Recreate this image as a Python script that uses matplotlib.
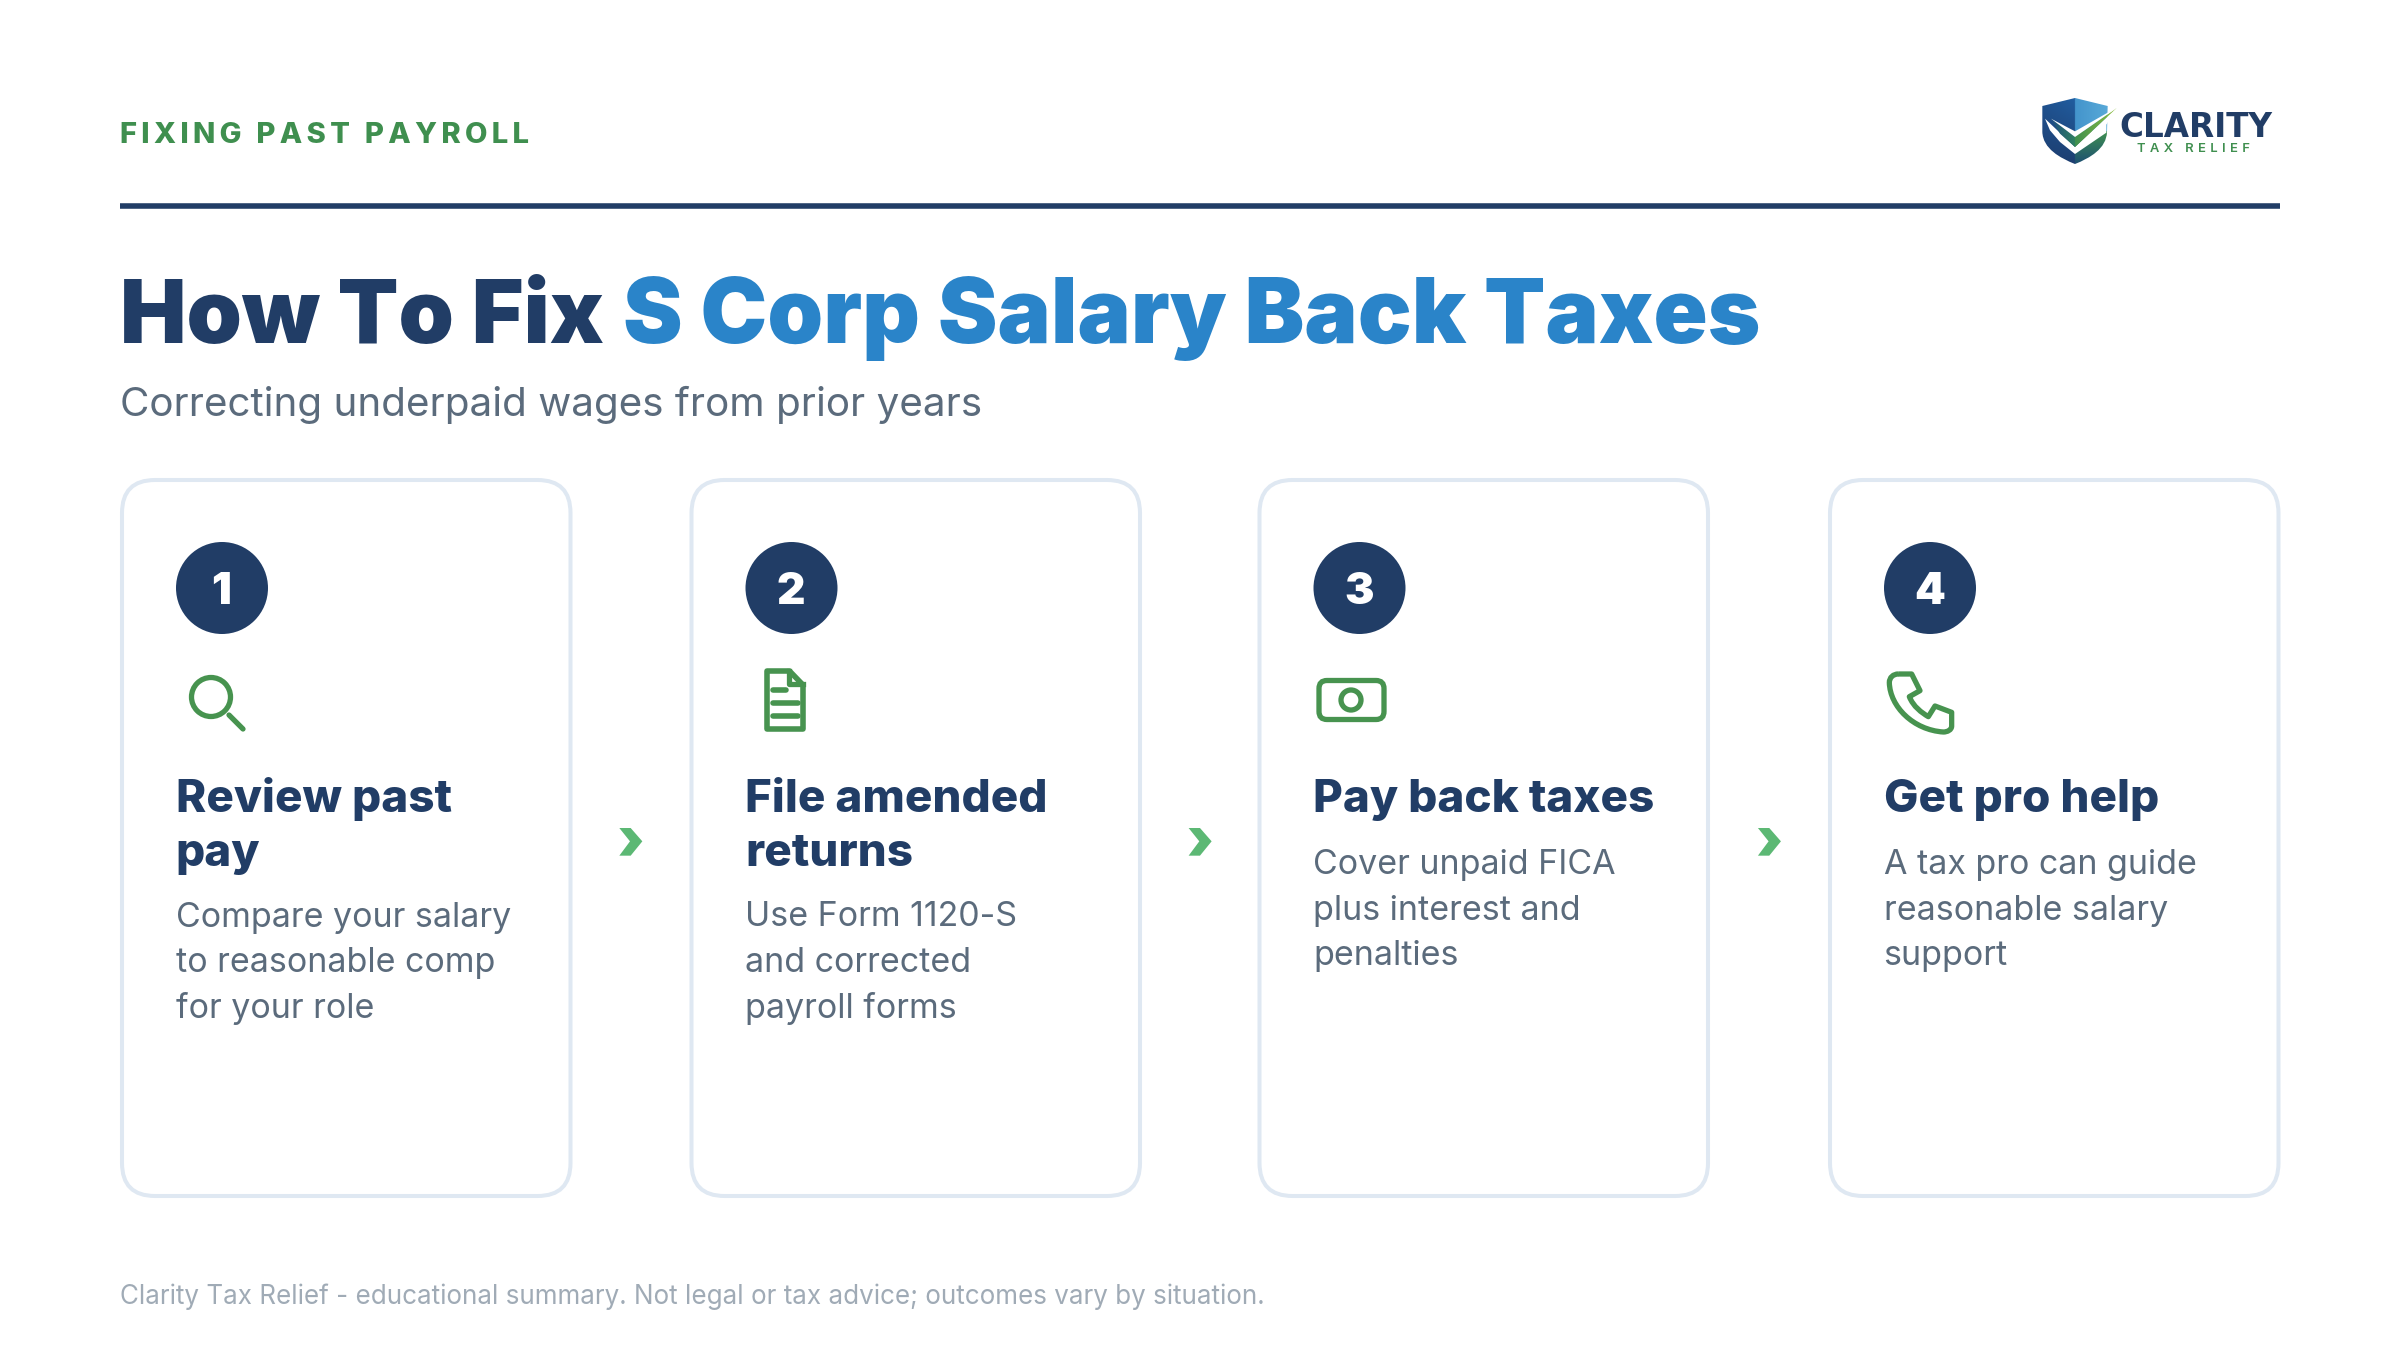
import numpy as np
import matplotlib
matplotlib.use("Agg")
import matplotlib.pyplot as plt
from matplotlib.colors import to_rgb
from matplotlib.patches import FancyBboxPatch, Circle, Polygon, PathPatch
from matplotlib.path import Path

NAVY = "#213D66"
BLUE = "#2A84C9"
GREEN = "#3F8F4F"
ICON = "#47934F"
CHEVRON = "#5CB874"
BORDER = "#DFE8F2"
GREY = "#5B6B7C"
FOOT = "#A0ABB6"

HAIR = "\u200a\u200a"
EYEBROW = HAIR.join("FIXING PAST PAYROLL")
TITLE_DARK = "How To Fix"
TITLE_BLUE = "S Corp Salary Back Taxes"
SUBTITLE = "Correcting underpaid wages from prior years"
FOOTER = "Clarity Tax Relief - educational summary. Not legal or tax advice; outcomes vary by situation."

STEP_NUMBERS = ["1", "2", "3", "4"]
STEP_HEADS = [["Review past", "pay"], ["File amended", "returns"], ["Pay back taxes"], ["Get pro help"]]
STEP_BODIES = [
    ["Compare your salary", "to reasonable comp", "for your role"],
    ["Use Form 1120-S", "and corrected", "payroll forms"],
    ["Cover unpaid FICA", "plus interest and", "penalties"],
    ["A tax pro can guide", "reasonable salary", "support"],
]
CARD_LEFT = [122, 691.5, 1259.5, 1830]

plt.rcParams["font.family"] = ["Inter", "DejaVu Sans"]

fig = plt.figure(figsize=(24, 13.5), dpi=100, facecolor="white")
ax = fig.add_axes([0, 0, 1, 1])
ax.set_xlim(0, 2400)
ax.set_ylim(1350, 0)
ax.axis("off")


def txt(x, y, s, px, color, weight="normal", ha="left", family=None):
    t = ax.text(x, y, s, fontsize=px * 0.72, color=color, fontweight=weight, ha=ha, va="baseline")
    if family:
        t.set_family(family)
    return t


def magnifier(x):
    ax.add_patch(Circle((x - 11, 697), 19.5, fc="none", ec=ICON, lw=3.8))
    ax.plot([x + 7, x + 21], [715, 729], color=ICON, lw=3.8, solid_capstyle="round")


def document(x):
    pts = [(x - 24.5, 671), (x - 2, 671), (x + 11.5, 685), (x + 11.5, 729), (x - 24.5, 729)]
    ax.add_patch(Polygon(pts, closed=True, fc="none", ec=ICON, lw=4, joinstyle="round"))
    ax.plot([x - 3, x - 3, x + 11], [671, 684, 684], color=ICON, lw=3.8)
    ax.plot([x - 19, x - 6], [690, 690], color=ICON, lw=4, solid_capstyle="round")
    ax.plot([x - 19, x + 6], [703, 703], color=ICON, lw=4, solid_capstyle="round")
    ax.plot([x - 19, x + 6], [716, 716], color=ICON, lw=4, solid_capstyle="round")


def money(x):
    ax.add_patch(FancyBboxPatch((x - 40.5, 680.5), 65, 39, boxstyle="round,pad=0,rounding_size=8",
                                fc="none", ec=ICON, lw=3.8))
    ax.add_patch(Circle((x - 8.5, 700), 10, fc="none", ec=ICON, lw=3.8))


def phone(x):
    def p(a, b):
        return (x - 100 + a / 3, 520 + b / 3)
    verts = [p(205, 462), p(245, 462), p(270, 512), p(238, 530),
             p(250, 560), p(275, 578), p(295, 590),
             p(315, 558), p(365, 577), p(365, 618),
             p(365, 630), p(352, 636), p(340, 636),
             p(250, 630), p(180, 560), p(178, 488),
             p(178, 472), p(190, 462), p(205, 462)]
    codes = [Path.MOVETO, Path.LINETO, Path.LINETO, Path.LINETO,
             Path.CURVE4, Path.CURVE4, Path.CURVE4,
             Path.LINETO, Path.LINETO, Path.LINETO,
             Path.CURVE4, Path.CURVE4, Path.CURVE4,
             Path.CURVE4, Path.CURVE4, Path.CURVE4,
             Path.CURVE4, Path.CURVE4, Path.CURVE4]
    ax.add_patch(PathPatch(Path(verts, codes), fc="none", ec=ICON, lw=3.8, joinstyle="round"))


def chevron(x):
    base = np.array([(88, 84), (122, 84), (157, 124), (122, 167), (88, 167), (120, 124)], dtype=float)
    pts = np.column_stack([x + base[:, 0] / 3, 800 + base[:, 1] / 3])
    ax.add_patch(Polygon(pts, closed=True, fc=CHEVRON, ec="none"))


def grad_poly(verts, c0, c1, zorder):
    patch = Polygon(verts, closed=True, fc="none", ec="none", zorder=zorder)
    ax.add_patch(patch)
    t = np.linspace(0, 1, 60)[:, None]
    row = (1 - t) * np.array(to_rgb(c0)) + t * np.array(to_rgb(c1))
    xs, ys = zip(*verts)
    im = ax.imshow(row[None, :, :], extent=(min(xs), max(xs), max(ys), min(ys)), aspect="auto",
                   zorder=zorder, interpolation="bilinear")
    im.set_clip_path(patch)


def logo():
    def z(pts):
        return [(2035 + a / 3, 92 + b / 3) for a, b in pts]

    shield_v = z([(120, 18), (218, 42), (216, 120), (214, 170), (165, 198), (120, 216),
                  (75, 198), (24, 170), (22, 120), (22, 42), (120, 18)])
    shield_c = [Path.MOVETO, Path.LINETO, Path.LINETO, Path.CURVE4, Path.CURVE4, Path.CURVE4,
                Path.CURVE4, Path.CURVE4, Path.CURVE4, Path.LINETO, Path.LINETO]
    shield = PathPatch(Path(shield_v, shield_c), fc="none", ec="none", zorder=2)
    ax.add_patch(shield)

    # shield shading: navy on the left, light blue over green on the right
    n = 90
    v = np.linspace(0, 1, n)[:, None, None]
    h = np.linspace(0, 1, n)[None, :, None]
    navy_top, navy_low = np.array(to_rgb("#1F5290")), np.array(to_rgb("#1D3E70"))
    left = (1 - v) * navy_top + v * navy_low + (1 - v) * h * 0.18 * np.array([0.1, 0.5, 0.7])
    blue0, blue1 = np.array(to_rgb("#2F7FBF")), np.array(to_rgb("#58A9D8"))
    green0, green1 = np.array(to_rgb("#3F9150")), np.array(to_rgb("#1D4F72"))
    upper = (1 - h) * blue0 + h * blue1
    vv = np.clip((v - 0.5) / 0.5, 0, 1)
    lower = (1 - vv) * green0 + vv * green1
    right = np.where(v < 0.5, upper, lower)
    rgb = np.where(h < 0.5, left, right)
    im = ax.imshow(np.clip(rgb, 0, 1), extent=(2042.3, 2107.7, 164, 98), aspect="auto",
                   zorder=2, interpolation="bilinear")
    im.set_clip_path(shield)

    # white band under the check, then the check, then the white gap over it
    ax.add_patch(Polygon(z([(30, 80), (120, 165), (245, 48), (214, 98), (214, 122), (120, 186),
                            (75, 150), (45, 115)]), closed=True, fc="white", ec="none", zorder=3))
    grad_poly(z([(48, 80), (120, 135), (120, 165), (75, 125)]), "#1F4F80", "#2F8060", 4)
    grad_poly(z([(120, 135), (245, 48), (120, 165)]), "#3F8F4F", "#8FC03F", 4)
    ax.add_patch(Polygon(z([(48, 80), (120, 118), (218, 62), (245, 48), (120, 135)]),
                         closed=True, fc="white", ec="none", zorder=5))
    ax.set_xlim(0, 2400)
    ax.set_ylim(1350, 0)

    txt(2119, 137, "CLARITY", 32.6, NAVY, weight="bold", family=["DejaVu Sans"])
    txt(2137, 152, "\u2009\u200a\u200a".join("TAX RELIEF"), 13, GREEN, weight=600)


# header
txt(120, 143, EYEBROW, 29.2, GREEN, weight=800)
logo()
ax.plot([120, 2280], [206, 206], color=NAVY, lw=4, solid_capstyle="butt")

txt(120, 343, TITLE_DARK, 88.8, NAVY, weight=900)
txt(623, 343, TITLE_BLUE, 89.5, BLUE, weight=900)
txt(120, 416, SUBTITLE, 40.4, GREY)

# cards
icons = [magnifier, document, money, phone]
for i in range(4):
    left = CARD_LEFT[i]
    ax.add_patch(FancyBboxPatch((left, 480), 448.5, 716, boxstyle="round,pad=0,rounding_size=33",
                                fc="white", ec=BORDER, lw=2.9))
    cx = left + 100
    ax.add_patch(Circle((cx, 588), 46, fc=NAVY, ec="none"))
    ax.text(cx - 0.5, 588, STEP_NUMBERS[i], fontsize=44 * 0.72, color="white", fontweight=900,
            ha="center", va="center_baseline")
    icons[i](cx)

    y = 812
    for line in STEP_HEADS[i]:
        txt(left + 53.5, y, line, 45.8, NAVY, weight=800)
        y += 54
    y = 874 if len(STEP_HEADS[i]) == 1 else 926.5
    for line in STEP_BODIES[i]:
        txt(left + 53.5, y, line, 34, GREY)
        y += 45.7

    if i < 3:
        chevron(590 + 569.3 * i)

txt(120, 1304, FOOTER, 26, FOOT)

fig.savefig("out.png", dpi=100)
